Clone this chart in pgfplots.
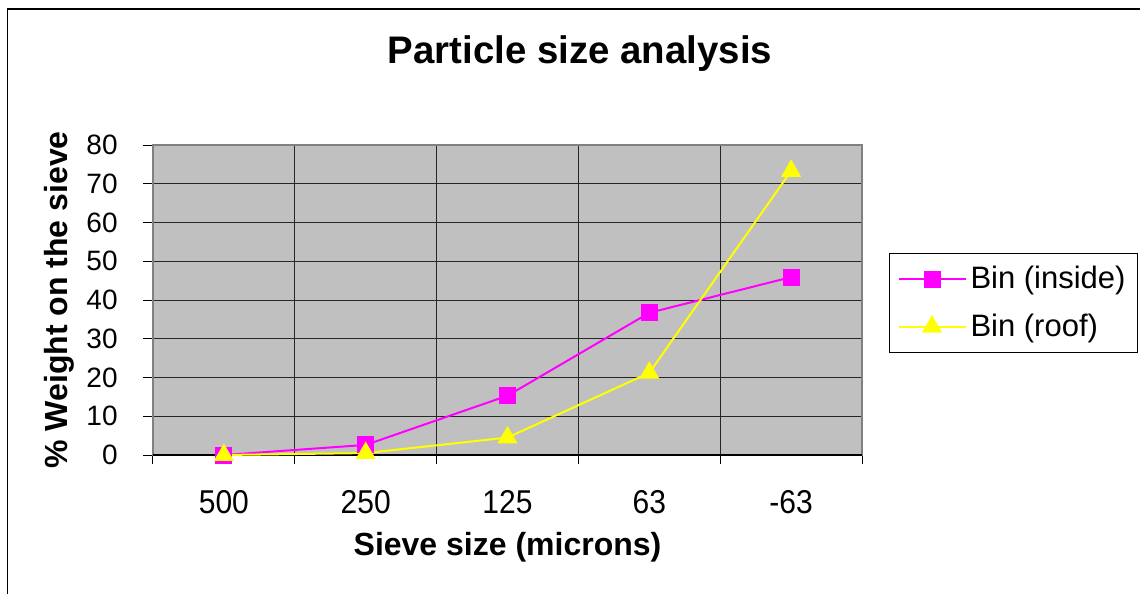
\documentclass[border=0pt]{standalone}
\usepackage{graphicx}
\usepackage{pgfplots}
\pgfplotsset{compat=1.18}
\usepackage{fontspec}
\setmainfont{Liberation Sans}
\definecolor{plotbg}{HTML}{C0C0C0}
\definecolor{mag}{HTML}{FF00FF}
\definecolor{yel}{HTML}{FFFF00}
\newcommand{\xl}[1]{\scalebox{1}[1.1]{#1}}
\begin{document}
\begin{tikzpicture}
\path[use as bounding box] (0,0) rectangle (570pt,297pt);
\draw[black, line width=0.75pt] (3.75pt,-2pt) -- (3.75pt,292.5pt) -- (572pt,292.5pt);
\node[font=\fontsize{19.2pt}{23pt}\selectfont\bfseries] at (290pt,270pt) {Particle size analysis};
\begin{axis}[
  at={(76.5pt,69.5pt)}, anchor=south west,
  scale only axis, width=354.5pt, height=155pt,
  xmin=-0.5, xmax=4.5, ymin=0, ymax=80,
  clip=false,
  axis background/.style={fill=plotbg},
  axis line style={draw=none},
  xtick={0,1,2,3,4},
  xticklabels={\xl{500},\xl{250},\xl{125},\xl{63},\xl{-63}},
  minor xtick={-0.5,0.5,1.5,2.5,3.5,4.5},
  ytick={0,10,20,30,40,50,60,70,80},
  xminorgrids=true, ymajorgrids=true,
  major x tick style={draw=none},
  minor x tick style={black, line width=0.5pt},
  major y tick style={black, line width=0.5pt},
  tick align=outside,
  major tick length=5pt, minor tick length=4.5pt,
  xtick pos=bottom, ytick pos=left,
  grid style={black!85, line width=0.5pt},
  minor grid style={black!85, line width=0.5pt},
  /pgf/number format/assume math mode=true,
  yticklabel style={font=\fontsize{14pt}{16pt}\selectfont, anchor=east, inner sep=0pt, xshift=-12.5pt},
  xticklabel style={font=\fontsize{15pt}{17pt}\selectfont, anchor=center, inner sep=0pt, yshift=-18.5pt},
  xlabel={Sieve size (microns)},
  ylabel={\% Weight on the sieve},
  label style={font=\fontsize{16pt}{19pt}\selectfont\bfseries},
  xlabel style={at={(axis description cs:0.5,-0.2968)}, anchor=center},
  ylabel style={at={(axis description cs:-0.1326,0.5)}, anchor=center},
  legend style={at={(1.0381,0.6516)}, anchor=north west, draw=black, line width=0.5pt,
    font=\fontsize{15.5pt}{18pt}\selectfont, inner xsep=4pt, inner ysep=4.5pt,
    row sep=7pt, cells={anchor=west}},
  legend image code/.code={\draw[mark repeat=2,mark phase=2,#1] plot coordinates {(0pt,0pt) (16.75pt,0pt) (33.5pt,0pt)};},
  legend cell align=left,
]
\draw[gray, line width=1pt] (rel axis cs:0,0) rectangle (rel axis cs:1,1);
\draw[black, line width=0.75pt] (rel axis cs:0,0) -- (rel axis cs:1,0);
\addplot[mag, line width=1pt, mark=square*, mark size=3.75pt, mark options={solid, fill=mag, draw=mag}]
  coordinates {(0,0) (1,2.6) (2,15.3) (3,36.7) (4,45.9)};
\addlegendentry{Bin (inside)}
\addplot[yel, line width=1pt, mark=triangle*, mark size=4.8pt, mark options={solid, fill=yel, draw=yel}]
  coordinates {(0,0) (1,0.5) (2,4.5) (3,21.2) (4,73.3)};
\addlegendentry{Bin (roof)}
\end{axis}
\end{tikzpicture}
\end{document}
